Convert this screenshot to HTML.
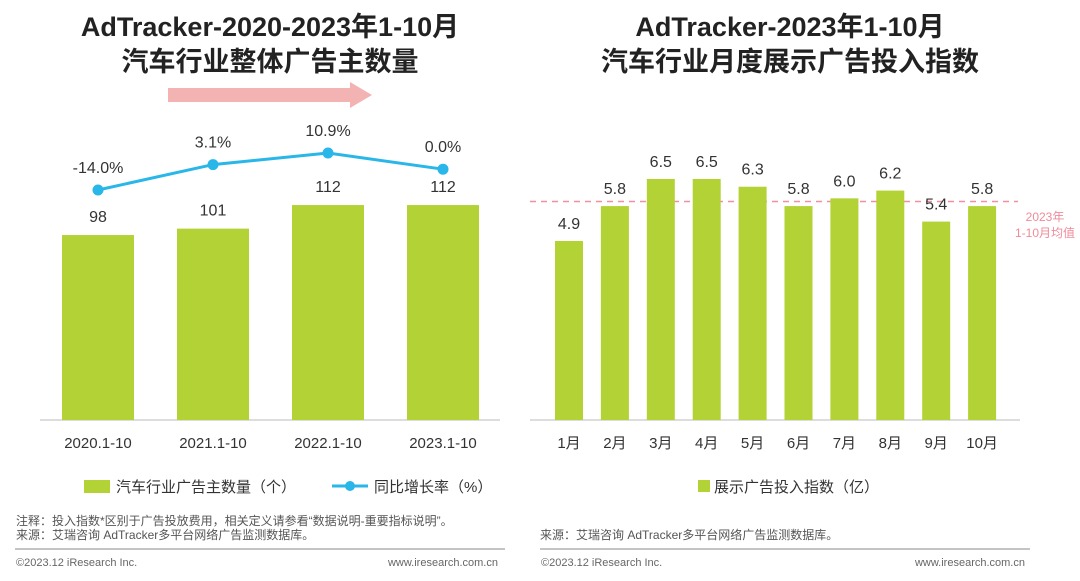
<!DOCTYPE html>
<html><head><meta charset="utf-8">
<style>
body{margin:0;width:1080px;height:576px;background:#fff;overflow:hidden;font-family:"Liberation Sans","Noto Sans CJK SC",sans-serif;}
svg text{font-family:"Liberation Sans","Noto Sans CJK SC",sans-serif;}
</style></head><body>
<svg id="c" width="1080" height="576">
<text x="270" y="36" text-anchor="middle" font-size="27" font-weight="bold" fill="#222">AdTracker-2020-2023年1-10月</text>
<text x="270" y="71" text-anchor="middle" font-size="27" font-weight="bold" fill="#222">汽车行业整体广告主数量</text>
<text x="790" y="36" text-anchor="middle" font-size="27" font-weight="bold" fill="#222">AdTracker-2023年1-10月</text>
<text x="790" y="71" text-anchor="middle" font-size="27" font-weight="bold" fill="#222">汽车行业月度展示广告投入指数</text>
<polygon points="168,88 350,88 350,82 372,95 350,108 350,102 168,102" fill="#f4b3b3"/>
<line x1="40" y1="420" x2="500" y2="420" stroke="#bbb"/>
<line x1="530" y1="420" x2="1020" y2="420" stroke="#bbb"/>
<g id="L"></g><g id="R"></g>
<rect x="84" y="480" width="26" height="13" fill="#b2d235"/>
<text x="116" y="492" font-size="15" fill="#333">汽车行业广告主数量（个）</text>
<line x1="332" y1="486" x2="368" y2="486" stroke="#29b6e8" stroke-width="3"/>
<circle cx="350" cy="486" r="5" fill="#29b6e8"/>
<text x="374" y="492" font-size="15" fill="#333">同比增长率（%）</text>
<rect x="698" y="480" width="12" height="12" fill="#b2d235"/>
<text x="714" y="492" font-size="15" fill="#333">展示广告投入指数（亿）</text>
<text x="16" y="525" font-size="12" fill="#555">注释：投入指数*区别于广告投放费用，相关定义请参看“数据说明-重要指标说明”。</text>
<text x="16" y="539" font-size="12" fill="#555">来源：艾瑞咨询 AdTracker多平台网络广告监测数据库。</text>
<line x1="15" y1="549" x2="505" y2="549" stroke="#888"/>
<text x="16" y="566" font-size="11" fill="#666">©2023.12 iResearch Inc.</text>
<text x="498" y="566" font-size="11" fill="#666" text-anchor="end">www.iresearch.com.cn</text>
<text x="540" y="539" font-size="12" fill="#555">来源：艾瑞咨询 AdTracker多平台网络广告监测数据库。</text>
<line x1="540" y1="549" x2="1030" y2="549" stroke="#888"/>
<text x="541" y="566" font-size="11" fill="#666">©2023.12 iResearch Inc.</text>
<text x="1025" y="566" font-size="11" fill="#666" text-anchor="end">www.iresearch.com.cn</text>
</svg>
<script>
const leftCats=["2020.1-10","2021.1-10","2022.1-10","2023.1-10"];
const advertisers=[98,101,112,112];
const growth=[-14.0,3.1,10.9,0.0];
const months=["1月","2月","3月","4月","5月","6月","7月","8月","9月","10月"];
const indexVals=[4.9,5.8,6.5,6.5,6.3,5.8,6.0,6.2,5.4,5.8];
const avgLabel=["2023年","1-10月均值"];
const NS="http://www.w3.org/2000/svg";
function mk(p,t,a,txt){const e=document.createElementNS(NS,t);for(const k in a)e.setAttribute(k,a[k]);if(txt!=null)e.textContent=txt;p.appendChild(e);return e;}
const L=document.getElementById('L'),R=document.getElementById('R');
const lx=i=>98+i*115, ly=v=>420-(v-11.7)*2.143, gy=v=>190-(v+14)*1.486;
leftCats.forEach((c,i)=>{
 const b=mk(L,'rect',{x:lx(i)-36,y:ly(advertisers[i]),width:72,height:420-ly(advertisers[i]),fill:'#b2d235'});
 
 
 const v=mk(L,'text',{x:lx(i),y:ly(advertisers[i])-13,'text-anchor':'middle','font-size':16,fill:'#333'},advertisers[i]);
 
 
 const t=mk(L,'text',{x:lx(i),y:448,'text-anchor':'middle','font-size':15,fill:'#333'},c);
 
 
});
const pl=mk(L,'polyline',{points:growth.map((g,i)=>lx(i)+','+gy(g)).join(' '),fill:'none',stroke:'#29b6e8','stroke-width':3});


growth.forEach((g,i)=>{
 const c=mk(L,'circle',{cx:lx(i),cy:gy(g),r:5.5,fill:'#29b6e8'});
 
 
 const t=mk(L,'text',{x:lx(i),y:gy(g)-17,'text-anchor':'middle','font-size':16,fill:'#333'},g.toFixed(1)+'%');
 
 
});
const rx=i=>569+i*45.9, ry=v=>420-(v-0.28)*38.75;
const avg=indexVals.reduce((a,b)=>a+b,0)/indexVals.length;
const al=mk(R,'line',{x1:530,y1:ry(avg),x2:1018,y2:ry(avg),stroke:'#f0909f','stroke-dasharray':'6,5','stroke-width':1.5});


avgLabel.forEach((s,k)=>{const t=mk(R,'text',{x:1045,y:221+k*16,'text-anchor':'middle','font-size':12,fill:'#f08a9a'},s);
 
 });
months.forEach((m,i)=>{
 const b=mk(R,'rect',{x:rx(i)-14,y:ry(indexVals[i]),width:28,height:420-ry(indexVals[i]),fill:'#b2d235'});
 
 
 const v=mk(R,'text',{x:rx(i),y:ry(indexVals[i])-12,'text-anchor':'middle','font-size':16,fill:'#333'},indexVals[i].toFixed(1));
 
 
 const t=mk(R,'text',{x:rx(i),y:448,'text-anchor':'middle','font-size':15,fill:'#333'},m);
 
 
});
</script>
</body></html>
